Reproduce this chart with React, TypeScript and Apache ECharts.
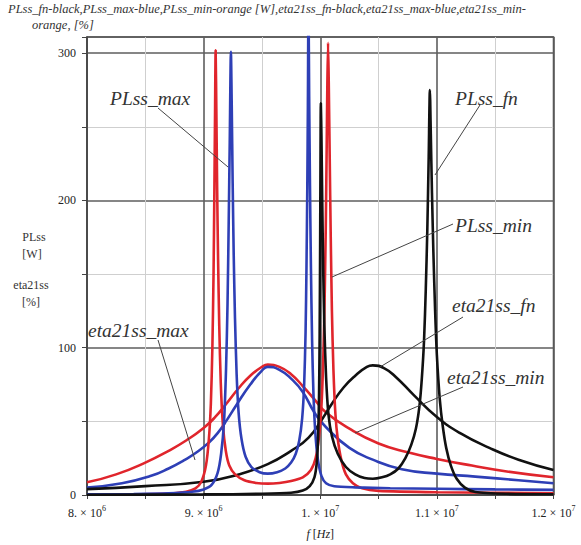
import React, { useEffect, useRef } from 'react';
import * as echarts from 'echarts';

// Frequency in units of 1e6 Hz, values in W or %
const xTickValues = [8, 9, 10, 11, 12];
const xTickMantissa = ['8.', '9.', '1.', '1.1', '1.2'];
const xTickExponent = ['6', '6', '7', '7', '7'];
const yTickLabels = [0, 100, 200, 300];

const plssMin: [number, number][] = [
  [8.0, 0.3], [8.4, 0.5], [8.7, 1.0], [8.85, 2.2], [8.93, 4.5], [8.98, 9], [9.02, 20], [9.045, 38],
  [9.062, 62], [9.075, 100], [9.085, 150], [9.092, 205], [9.098, 260], [9.103, 302], [9.109, 262],
  [9.116, 208], [9.124, 160], [9.134, 115], [9.147, 76], [9.165, 48], [9.19, 30], [9.22, 20],
  [9.27, 14], [9.35, 10], [9.45, 8.2], [9.55, 7.7], [9.65, 8.2], [9.75, 9.5], [9.85, 12], [9.92, 17],
  [9.96, 25], [9.99, 40], [10.01, 60], [10.025, 90], [10.037, 130], [10.047, 180], [10.055, 235],
  [10.061, 280], [10.067, 307], [10.073, 280], [10.081, 230], [10.09, 175], [10.1, 125], [10.113, 85],
  [10.13, 55], [10.15, 38], [10.18, 24], [10.22, 14], [10.28, 8], [10.36, 4.5], [10.5, 2.8],
  [11.0, 1.9], [12.0, 1.2],
];

const plssMax: [number, number][] = [
  [8.0, 0.4], [8.4, 0.7], [8.7, 1.2], [8.9, 2.2], [9.0, 3.8], [9.07, 7], [9.12, 15], [9.15, 28],
  [9.175, 50], [9.192, 85], [9.205, 130], [9.215, 185], [9.224, 240], [9.234, 301], [9.241, 265],
  [9.249, 212], [9.258, 163], [9.269, 120], [9.283, 82], [9.3, 56], [9.325, 38], [9.36, 26],
  [9.41, 19], [9.48, 15.5], [9.55, 14.5], [9.63, 15.5], [9.7, 18], [9.75, 22], [9.79, 28],
  [9.82, 37], [9.845, 52], [9.862, 75], [9.874, 110], [9.882, 155], [9.889, 210], [9.894, 265],
  [9.899, 335], [9.905, 270], [9.912, 210], [9.92, 155], [9.93, 105], [9.942, 68], [9.958, 42],
  [9.98, 24], [10.01, 13], [10.05, 8], [10.12, 6], [10.3, 5.2], [10.6, 4.6], [11.0, 4.2],
  [11.5, 3.8], [12.0, 3.5],
];

const plssFn: [number, number][] = [
  [8.0, 0.2], [9.0, 0.4], [9.5, 0.8], [9.75, 1.5], [9.85, 3], [9.91, 6], [9.95, 12], [9.97, 22],
  [9.982, 40], [9.99, 70], [9.995, 110], [9.999, 170], [10.002, 225], [10.005, 266], [10.01, 245],
  [10.017, 200], [10.025, 155], [10.035, 115], [10.05, 80], [10.07, 55], [10.1, 40], [10.15, 28],
  [10.22, 19], [10.3, 14], [10.38, 11.5], [10.45, 11], [10.53, 12], [10.6, 14], [10.67, 18],
  [10.73, 25], [10.78, 34], [10.82, 45], [10.85, 60], [10.87, 78], [10.89, 105], [10.905, 140],
  [10.918, 180], [10.93, 230], [10.94, 275], [10.948, 245], [10.958, 205], [10.97, 165],
  [10.985, 125], [11.0, 95], [11.025, 65], [11.05, 47], [11.08, 32], [11.12, 20], [11.17, 11],
  [11.24, 5], [11.33, 2], [11.6, 0.8], [12.0, 0.5],
];

const etaMin: [number, number][] = [
  [8.0, 8.6], [8.25, 14], [8.5, 22], [8.7, 30], [8.85, 37], [9.0, 45.5], [9.1, 53], [9.2, 62.5],
  [9.3, 72.5], [9.4, 81], [9.5, 87], [9.55, 88.5], [9.65, 87], [9.75, 82], [9.85, 74],
  [9.95, 65], [10.05, 56], [10.25, 45], [10.5, 35], [10.75, 29], [11.0, 24.5], [11.3, 20],
  [11.6, 16], [12.0, 12],
];

const etaMax: [number, number][] = [
  [8.0, 5], [8.3, 8], [8.55, 13], [8.7, 18], [8.83, 23.5], [8.95, 29.5], [9.05, 36], [9.12, 42],
  [9.2, 51], [9.28, 61], [9.4, 75], [9.5, 84.5], [9.55, 87], [9.65, 85], [9.75, 79], [9.85, 70],
  [9.95, 56], [10.05, 46], [10.25, 32], [10.45, 24], [10.7, 17.5], [11.0, 14.5], [11.33, 12.5],
  [11.7, 10], [12.0, 8],
];

const etaFn: [number, number][] = [
  [8.0, 4], [8.5, 6], [9.0, 9], [9.3, 14], [9.55, 21], [9.75, 30], [9.9, 39], [10.02, 52],
  [10.1, 62], [10.2, 73], [10.3, 81], [10.4, 87], [10.45, 88], [10.55, 86], [10.65, 80],
  [10.8, 68], [11.0, 53], [11.2, 42], [11.45, 32], [11.7, 24], [12.0, 17],
];

const titleLine1 =
  'PLss_fn-black,PLss_max-blue,PLss_min-orange [W],eta21ss_fn-black,eta21ss_max-blue,eta21ss_min-';
const titleLine2 = 'orange, [%]';

const RED = '#e0252c';
const BLUE = '#2e3fb6';
const BLACK = '#111111';
const SERIF = 'Liberation Serif';

export default function App() {
  const ref = useRef<HTMLDivElement>(null);
  useEffect(() => {
    if (!ref.current) return;
    const chart = echarts.init(ref.current, undefined, { renderer: 'svg' });

    const lineSeries = (name: string, data: [number, number][], color: string, smooth: number, z: number) => ({
      name,
      type: 'line',
      data,
      showSymbol: false,
      smooth,
      clip: true,
      z,
      lineStyle: { color, width: 2.6 },
      itemStyle: { color },
    });

    const txt = (
      text: string,
      x: number,
      y: number,
      fontSize: number,
      italic: boolean,
      align = 'left',
      z = 100
    ) => ({
      type: 'text',
      x,
      y,
      z,
      style: {
        text,
        fontSize,
        fontFamily: SERIF,
        fontStyle: italic ? 'italic' : 'normal',
        fill: '#333',
        textAlign: align,
        textVerticalAlign: 'middle',
        align,
        verticalAlign: 'middle',
      },
    });
    const leader = (x1: number, y1: number, x2: number, y2: number) => ({
      type: 'line',
      shape: { x1, y1, x2, y2 },
      style: { stroke: '#444', lineWidth: 1 },
      z: 100,
    });

    const option = {
      animation: false,
      textStyle: { fontFamily: SERIF },
      grid: {
        left: 87,
        right: 27.5,
        top: 37,
        bottom: 45.5,
        show: true,
        borderColor: '#444',
        borderWidth: 1.5,
        backgroundColor: 'transparent',
      },
      xAxis: {
        type: 'value',
        min: 8,
        max: 12,
        interval: 1,
        axisLine: { show: true, lineStyle: { color: '#444', width: 1.5 } },
        axisTick: { show: true, length: 4, lineStyle: { color: '#444' } },
        minorTick: { show: true, splitNumber: 2, length: 4, lineStyle: { color: '#444' } },
        splitLine: { show: true, lineStyle: { color: '#5e5e5e', width: 1.6 } },
        minorSplitLine: { show: true, lineStyle: { color: '#cfcfcf', width: 1 } },
        axisLabel: {
          margin: 9,
          formatter: (v: number) => {
            const i = xTickValues.indexOf(Math.round(v));
            if (i < 0) return '';
            return `{m|${xTickMantissa[i]} × 10}{e|${xTickExponent[i]}}`;
          },
          rich: {
            m: { fontSize: 12, color: '#222', fontFamily: SERIF, lineHeight: 15, verticalAlign: 'bottom' },
            e: { fontSize: 8, color: '#222', fontFamily: SERIF, verticalAlign: 'top' },
          },
        },
        name: '{i|f} {n|[}{i|Hz}{n|]}',
        nameLocation: 'middle',
        nameGap: 33,
        nameTextStyle: {
          fontSize: 12,
          color: '#222',
          fontFamily: SERIF,
          rich: {
            i: { fontStyle: 'italic', fontSize: 12, color: '#222', fontFamily: SERIF },
            n: { fontSize: 12, color: '#222', fontFamily: SERIF },
          },
        },
      },
      yAxis: {
        type: 'value',
        min: 0,
        max: 311,
        interval: 100,
        axisLine: { show: true, lineStyle: { color: '#444', width: 1.5 } },
        axisTick: { show: true, length: 5, lineStyle: { color: '#444' } },
        minorTick: { show: true, splitNumber: 2, length: 5, lineStyle: { color: '#444' } },
        splitLine: { show: true, lineStyle: { color: '#5e5e5e', width: 1.6 } },
        minorSplitLine: { show: true, lineStyle: { color: '#cfcfcf', width: 1 } },
        axisLabel: {
          margin: 11,
          fontSize: 12,
          color: '#222',
          fontFamily: SERIF,
          formatter: (v: number) => (yTickLabels.includes(Math.round(v)) ? String(Math.round(v)) : ''),
        },
      },
      series: [
        lineSeries('eta21ss_min', etaMin, RED, 0.5, 2),
        lineSeries('eta21ss_max', etaMax, BLUE, 0.5, 2),
        lineSeries('eta21ss_fn', etaFn, BLACK, 0.5, 3),
        lineSeries('PLss_min', plssMin, RED, 0.25, 4),
        lineSeries('PLss_max', plssMax, BLUE, 0.25, 4),
        lineSeries('PLss_fn', plssFn, BLACK, 0.25, 5),
      ],
      graphic: [
        txt(titleLine1, 8, 9, 12.5, true),
        txt(titleLine2, 32, 25, 12.5, true),
        txt('PLss', 34, 237, 12, false, 'center'),
        txt('[W]', 32, 254, 12, false, 'center'),
        txt('eta21ss', 31, 285, 12, false, 'center'),
        txt('[%]', 31, 302, 12, false, 'center'),
        txt('PLss_max', 110, 98, 19.5, true),
        leader(158, 108, 228, 167),
        txt('PLss_fn', 455, 98, 19.5, true),
        leader(480, 105, 435, 175),
        txt('PLss_min', 455, 225, 19.5, true),
        leader(453, 224, 332, 277),
        txt('eta21ss_fn', 452, 305, 19.5, true),
        leader(463, 317, 380, 367),
        txt('eta21ss_min', 447, 377, 19.5, true),
        leader(463, 387, 355, 433),
        txt('eta21ss_max', 88, 330, 19.5, true),
        leader(158, 340, 195, 460),
      ],
    };

    chart.setOption(option as any);
    return () => chart.dispose();
  }, []);

  return <div ref={ref} style={{ position: 'absolute', left: 0, top: 0, width: 581, height: 545 }} />;
}
